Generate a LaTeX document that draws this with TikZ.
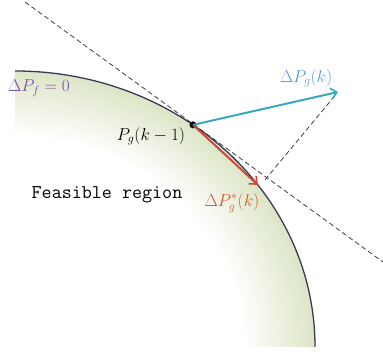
\documentclass[tikz,border=0pt]{standalone}
\usepackage{fontspec}
\usepackage{amsmath}
\usepackage{tikz}
\usetikzlibrary{arrows.meta, positioning, calc}
\definecolor{curveColor}{HTML}{3A3A58}
\definecolor{feasGreen}{HTML}{DCE5C6}
\definecolor{boundColor}{HTML}{7A4FA8}
\definecolor{stepBlue}{HTML}{38A8BC}
\definecolor{labelBlue}{HTML}{5B9BD5}
\definecolor{projRed}{HTML}{D0453C}
\definecolor{labelRed}{HTML}{DC5230}
\pgfdeclareradialshading{feasshade}{\pgfpoint{0bp}{0bp}}{%
  color(0bp)=(white); color(19bp)=(white);
  color(25bp)=(feasGreen); color(50bp)=(feasGreen)}

\begin{document}
\begin{tikzpicture}[
    x=1pt, y=1pt,
    guide/.style={
        dashed, line width=0.8pt,
        dash pattern=on 5pt off 3pt,
        color=black!75,
    },
    vec/.style={
        -{Straight Barb[length=6pt, width=11pt, line width=1.6pt]},
        line width=2pt,
    },
    mlabel/.style={
        font=\fontsize{17}{20}\selectfont,
        inner sep=1pt,
    },
]
\useasboundingbox (0,0) rectangle (383,355);

%--- Feasible region: shaded quarter ellipse ---
\coordinate (ctr) at (15,8);
\begin{scope}
    \clip (ctr) -- ++(0,276) arc[start angle=90, end angle=0,
        x radius=300, y radius=276] -- cycle;
    \shade[shading=feasshade] (ctr) ellipse[x radius=300, y radius=276];
\end{scope}
\draw[line width=1.3pt, curveColor] (ctr) ++(0,276)
    arc[start angle=90, end angle=0, x radius=300, y radius=276];

%--- Points on the boundary ---
\node[circle, fill=black, inner sep=0pt, minimum size=7pt]
    (P) at ($(ctr)+(53.6:300 and 276)$) {};
\coordinate (tipR) at ($(ctr)+(36:300 and 276)$);
\coordinate (tipB) at (338,263);

%--- Tangent and projection guides ---
\coordinate (tanA) at (25,353);
\coordinate (tanB) at (383,93);
\coordinate (foot) at (264,174);
\draw[guide] (tanA) -- (tanB);
\draw[guide, shorten <=5pt] (tipB) -- (foot);

%--- Step vectors ---
\draw[vec, stepBlue] (P.center) -- (tipB);
\draw[vec, projRed] (P.center) -- (tipR);

%--- Labels ---
\node[mlabel, text=boundColor] (lblBound) at (39,267) {$\Delta P_f = 0$};
\node[mlabel, text=labelBlue] (lblStep) at (306,277) {$\Delta P_g(k)$};
\node[mlabel] (lblPrev) at (151,219) {$P_g(k-1)$};
\node[mlabel, text=labelRed] (lblProj) at (232,152) {$\Delta P^{*}_g(k)$};
\node[font=\ttfamily\fontsize{19.5}{22}\selectfont] (feas) at (107,160) {Feasible region};

\end{tikzpicture}
\end{document}
